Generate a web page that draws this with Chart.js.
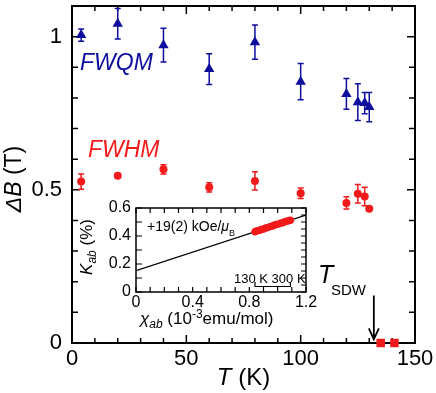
<!DOCTYPE html>
<html><head><meta charset="utf-8">
<script src="https://cdn.jsdelivr.net/npm/chart.js@4.4.0/dist/chart.umd.min.js"></script>
<style>
html,body{margin:0;padding:0;background:#fff;}
#wrap{position:relative;width:436px;height:393px;overflow:hidden;}
#main{position:absolute;left:0;top:0;}
#inset{position:absolute;left:70px;top:195px;}
</style></head><body>
<div id="wrap"><canvas id="main" width="436" height="393"></canvas><canvas id="inset" width="260" height="140"></canvas></div>
<script>
// ---- main panel data ----
const temps   = [4, 20, 40, 60, 80, 100, 120, 125, 128, 130];
const fwqm    = [1.005, 1.042, 0.972, 0.894, 0.982, 0.853, 0.813, 0.786, 0.783, 0.770];
const fwqmErr = [0.02, 0.05, 0.055, 0.05, 0.056, 0.059, 0.05, 0.06, 0.035, 0.048];
const fwhm    = [0.527, 0.546, 0.567, 0.508, 0.529, 0.489, 0.457, 0.487, 0.478, 0.438];
const fwhmErr = [0.025, 0, 0.015, 0.015, 0.03, 0.017, 0.02, 0.03, 0.03, 0];
const zeroT   = [135, 141];
const zeroVal = [0, 0];
const xTickLabels = [0, 50, 100, 150];
const yTickLabels = [0, 0.5, 1];
const tSDW = 132;

// ---- inset data ----
const chiData = [0.84,0.855,0.87,0.885,0.9,0.915,0.93,0.945,0.96,0.975,0.99,1.005,1.02,1.035,1.05,1.065,1.08,1.09];
const kData   = [0.430,0.437,0.440,0.447,0.450,0.457,0.460,0.467,0.470,0.477,0.482,0.485,0.492,0.495,0.502,0.505,0.511,0.513];
const fitChi  = [0, 1.2];
const fitK    = [0.152, 0.55];
const insetXTicks = [0, 0.4, 0.8, 1.2];
const insetYTicks = [0, 0.2, 0.4, 0.6];

const BLUE = '#0d0d9e', RED = '#f21a1a';
const FF = '"Liberation Sans", Arial, sans-serif';

function runs(ctx, x, y, parts, align) {
  // parts: [text, font, dy, color]
  let w = 0;
  parts.forEach(p => { ctx.font = p[1] + ' ' + FF; w += ctx.measureText(p[0]).width; });
  let cx = align === 'center' ? x - w / 2 : (align === 'right' ? x - w : x);
  parts.forEach(p => {
    ctx.font = p[1] + ' ' + FF;
    if (p[3]) ctx.fillStyle = p[3];
    ctx.fillText(p[0], cx, y + (p[2] || 0));
    cx += ctx.measureText(p[0]).width;
  });
}

function vals(min, max, step) { const a = []; for (let v = min; v <= max + 1e-9; v += step) a.push(+v.toFixed(6)); return a; }

const mainPlugin = {
  id: 'mainDeco',
  beforeDatasetsDraw(chart) {
    const ctx = chart.ctx, xs = chart.scales.x, ys = chart.scales.y, a = chart.chartArea;
    ctx.save();
    // frame
    ctx.strokeStyle = '#000'; ctx.lineWidth = 2;
    ctx.strokeRect(a.left, a.top, a.right - a.left, a.bottom - a.top);
    ctx.lineWidth = 1.5;
    ctx.beginPath();
    vals(0, 150, 10).forEach(v => {
      const px = xs.getPixelForValue(v), L = (v % 50 === 0) ? 8 : 5;
      ctx.moveTo(px, a.bottom); ctx.lineTo(px, a.bottom - L);
      ctx.moveTo(px, a.top); ctx.lineTo(px, a.top + L);
    });
    vals(0, 1.1, 0.1).forEach(v => {
      const py = ys.getPixelForValue(v), L = (Math.abs(v * 2 - Math.round(v * 2)) < 1e-6) ? 8 : 6;
      ctx.moveTo(a.left, py); ctx.lineTo(a.left + L, py);
      ctx.moveTo(a.right, py); ctx.lineTo(a.right - L, py);
    });
    ctx.stroke();
    // error bars
    ctx.lineWidth = 1.5;
    [[fwqm, fwqmErr, BLUE], [fwhm, fwhmErr, RED]].forEach(([v, e, col]) => {
      ctx.strokeStyle = col;
      ctx.beginPath();
      temps.forEach((t, i) => {
        if (!e[i]) return;
        const px = xs.getPixelForValue(t), p1 = ys.getPixelForValue(v[i] + e[i]), p2 = ys.getPixelForValue(v[i] - e[i]);
        ctx.moveTo(px, p1); ctx.lineTo(px, p2);
        ctx.moveTo(px - 3, p1); ctx.lineTo(px + 3, p1);
        ctx.moveTo(px - 3, p2); ctx.lineTo(px + 3, p2);
      });
      ctx.stroke();
    });
    ctx.restore();
  },
  afterDraw(chart) {
    const ctx = chart.ctx, xs = chart.scales.x, ys = chart.scales.y, a = chart.chartArea;
    ctx.save();
    ctx.fillStyle = '#000';
    ctx.textBaseline = 'middle';
    ctx.font = '22px ' + FF;
    ctx.textAlign = 'center';
    xTickLabels.forEach(v => ctx.fillText(String(v), xs.getPixelForValue(v), a.bottom + 16));
    ctx.textAlign = 'right';
    yTickLabels.forEach(v => ctx.fillText(String(v), a.left - 10, ys.getPixelForValue(v)));
    ctx.textAlign = 'left';
    // axis titles
    runs(ctx, (a.left + a.right) / 2 + 0, 378, [['T', 'italic 24px'], [' (K)', '24px']], 'center');
    ctx.save();
    ctx.translate(15, 179);
    ctx.rotate(-Math.PI / 2);
    runs(ctx, 0, 0, [['ΔB', 'italic 23px'], [' (T)', '23px']], 'center');
    ctx.restore();
    // series labels
    ctx.textBaseline = 'alphabetic';
    runs(ctx, 80, 70, [['FWQM', 'italic 23px', 0, BLUE]], 'left');
    runs(ctx, 88, 157, [['FWHM', 'italic 23px', 0, RED]], 'left');
    // T_SDW
    ctx.fillStyle = '#000';
    runs(ctx, 318, 283, [['T', 'italic 25px']], 'left');
    runs(ctx, 331, 295, [['SDW', '15px']], 'left');
    const ax = xs.getPixelForValue(tSDW), y1 = ys.getPixelForValue(0.155), y2 = ys.getPixelForValue(0.012);
    ctx.strokeStyle = '#000'; ctx.lineWidth = 1.8;
    ctx.beginPath();
    ctx.moveTo(ax, y1); ctx.lineTo(ax, y2);
    ctx.moveTo(ax - 5, y2 - 11); ctx.lineTo(ax, y2); ctx.lineTo(ax + 5, y2 - 11);
    ctx.stroke();
    ctx.restore();
  }
};

new Chart(document.getElementById('main'), {
  type: 'scatter',
  data: { datasets: [
    { data: temps.map((t, i) => ({ x: t, y: fwqm[i] })), pointStyle: 'triangle', pointRadius: 6,
      backgroundColor: BLUE, borderColor: BLUE, pointBorderWidth: 0, clip: false },
    { data: temps.map((t, i) => ({ x: t, y: fwhm[i] })), pointStyle: 'circle', pointRadius: 4,
      backgroundColor: RED, borderColor: RED, pointBorderWidth: 0, clip: false },
    { data: zeroT.map((t, i) => ({ x: t, y: zeroVal[i] })), pointStyle: 'rect', pointRadius: 6,
      backgroundColor: RED, borderColor: RED, pointBorderWidth: 0, clip: false }
  ]},
  options: {
    responsive: false, animation: false, devicePixelRatio: 1, events: [],
    layout: { padding: { left: 72, right: 21, top: 3, bottom: 50 } },
    plugins: { legend: { display: false }, tooltip: { enabled: false } },
    scales: { x: { type: 'linear', min: 0, max: 150, display: false },
              y: { type: 'linear', min: 0, max: 1.1, display: false } }
  },
  plugins: [mainPlugin]
});

const insetPlugin = {
  id: 'insetDeco',
  beforeDatasetsDraw(chart) {
    const ctx = chart.ctx, xs = chart.scales.x, ys = chart.scales.y, a = chart.chartArea;
    ctx.save();
    ctx.strokeStyle = '#000'; ctx.lineWidth = 1.5;
    ctx.strokeRect(a.left, a.top, a.right - a.left, a.bottom - a.top);
    ctx.lineWidth = 1.2;
    ctx.beginPath();
    vals(0, 1.2, 0.1).forEach(v => {
      const px = xs.getPixelForValue(v), L = 5;
      ctx.moveTo(px, a.bottom); ctx.lineTo(px, a.bottom - L);
      ctx.moveTo(px, a.top); ctx.lineTo(px, a.top + L);
    });
    vals(0, 0.6, 0.1).forEach(v => {
      const py = ys.getPixelForValue(v);
      ctx.moveTo(a.left, py); ctx.lineTo(a.left + 6, py);
    });
    vals(0, 0.6, 0.05).forEach(v => {
      const py = ys.getPixelForValue(v);
      ctx.moveTo(a.right, py); ctx.lineTo(a.right - 5, py);
    });
    ctx.stroke();
    ctx.restore();
  },
  afterDraw(chart) {
    const ctx = chart.ctx, xs = chart.scales.x, ys = chart.scales.y, a = chart.chartArea;
    ctx.save();
    ctx.fillStyle = '#000';
    ctx.textBaseline = 'middle';
    ctx.font = '16px ' + FF;
    ctx.textAlign = 'center';
    insetXTicks.forEach(v => ctx.fillText(String(v), xs.getPixelForValue(v), a.bottom + 11));
    ctx.textAlign = 'right';
    insetYTicks.forEach(v => ctx.fillText(String(v), a.left - 5, ys.getPixelForValue(v)));
    ctx.textAlign = 'left';
    ctx.textBaseline = 'alphabetic';
    runs(ctx, 70, 129, [['χ', 'italic 17px'], ['ab', 'italic 12px', 4], [' (10', '17px'], ['-3', '12px', -6], ['emu/mol)', '17px']], 'left');
    ctx.save();
    ctx.translate(22, 52);
    ctx.rotate(-Math.PI / 2);
    runs(ctx, 0, 0, [['K', 'italic 17px'], ['ab', 'italic 12px', 4], [' (%)', '17px']], 'center');
    ctx.restore();
    runs(ctx, 77, 36, [['+19(2) kOe/', '14px'], ['μ', 'italic 14px'], ['B', '9px', 5]], 'left');
    runs(ctx, 164, 88, [['130 K 300 K', '13px']], 'left');
    // bracket over data range
    const bx1 = xs.getPixelForValue(Math.min(...chiData)), bx2 = xs.getPixelForValue(Math.max(...chiData));
    ctx.strokeStyle = '#000'; ctx.lineWidth = 1.2;
    ctx.beginPath();
    ctx.moveTo(bx1, 87); ctx.lineTo(bx1, 91.5); ctx.lineTo(bx2, 91.5); ctx.lineTo(bx2, 87);
    ctx.stroke();
    ctx.restore();
  }
};

new Chart(document.getElementById('inset'), {
  type: 'scatter',
  data: { datasets: [
    { data: chiData.map((c, i) => ({ x: c, y: kData[i] })), pointStyle: 'circle', pointRadius: 3.7,
      backgroundColor: RED, borderColor: RED, pointBorderWidth: 0, order: 0 },
    { data: fitChi.map((c, i) => ({ x: c, y: fitK[i] })), showLine: true, borderColor: '#000', borderWidth: 1.3,
      pointRadius: 0, fill: false, order: 1 }
  ]},
  options: {
    responsive: false, animation: false, devicePixelRatio: 1, events: [],
    layout: { padding: { left: 66, right: 24, top: 13, bottom: 43 } },
    plugins: { legend: { display: false }, tooltip: { enabled: false } },
    scales: { x: { type: 'linear', min: 0, max: 1.2, display: false },
              y: { type: 'linear', min: 0, max: 0.6, display: false } }
  },
  plugins: [insetPlugin]
});
</script>
</body></html>
